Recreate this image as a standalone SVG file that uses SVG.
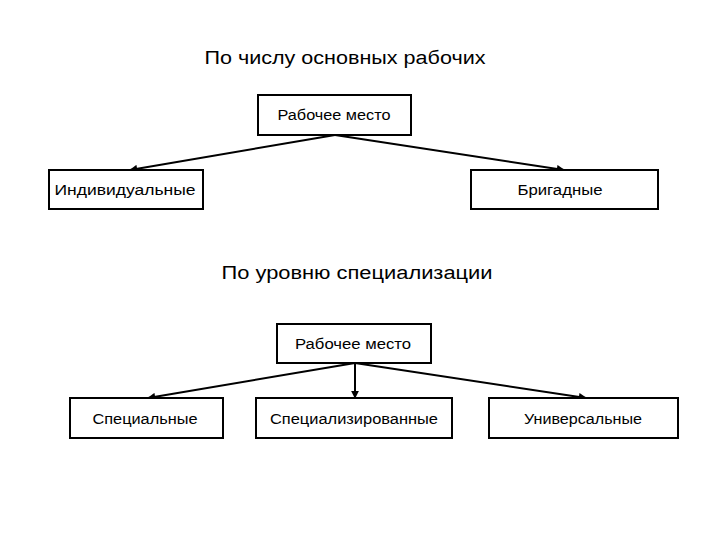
<svg xmlns="http://www.w3.org/2000/svg" width="720" height="540" viewBox="0 0 720 540">
<style>
.box{fill:#fff;stroke:#000;stroke-width:2}
.t{font-family:"Liberation Sans",Arial,sans-serif;font-size:14px;fill:#000;text-anchor:middle}
.h{font-family:"Liberation Sans",Arial,sans-serif;font-size:18px;fill:#000;text-anchor:middle}
.c{stroke:#000;stroke-width:2;fill:none;marker-end:url(#ah)}
</style>
<defs>
<marker id="ah" viewBox="0 0 10 10" refX="9" refY="5" markerWidth="4" markerHeight="4" orient="auto" markerUnits="strokeWidth">
<path d="M0,0 L10,5 L0,10 z" fill="#000"/>
</marker>
</defs>
<rect width="720" height="540" fill="#fff"/>
<text class="h" x="345" y="64" textLength="281" lengthAdjust="spacingAndGlyphs">По числу основных рабочих</text>
<text class="h" x="357" y="279" textLength="271" lengthAdjust="spacingAndGlyphs">По уровню специализации</text>
<g id="connectors">
<line class="c" x1="335" y1="135" x2="130" y2="170"/>
<line class="c" x1="335" y1="135" x2="564" y2="170"/>
<line class="c" x1="355" y1="363" x2="148" y2="398"/>
<line class="c" x1="355" y1="363" x2="355" y2="398"/>
<line class="c" x1="355" y1="363" x2="586" y2="398"/>
</g>
<g id="top1">
<rect class="box" x="258" y="95" width="153" height="40"/>
<text class="t" x="334" y="120" textLength="113" lengthAdjust="spacingAndGlyphs">Рабочее место</text>
</g>
<g id="individual">
<rect class="box" x="49" y="170" width="154" height="39"/>
<text class="t" x="125" y="195" textLength="141" lengthAdjust="spacingAndGlyphs">Индивидуальные</text>
</g>
<g id="brigade">
<rect class="box" x="471" y="170" width="187" height="39"/>
<text class="t" x="560" y="195" textLength="85" lengthAdjust="spacingAndGlyphs">Бригадные</text>
</g>
<g id="top2">
<rect class="box" x="277" y="324" width="154" height="39"/>
<text class="t" x="353" y="349" textLength="116" lengthAdjust="spacingAndGlyphs">Рабочее место</text>
</g>
<g id="special">
<rect class="box" x="70" y="398" width="153" height="40"/>
<text class="t" x="145" y="424" textLength="105" lengthAdjust="spacingAndGlyphs">Специальные</text>
</g>
<g id="specialized">
<rect class="box" x="256" y="398" width="196" height="40"/>
<text class="t" x="354" y="424" textLength="168" lengthAdjust="spacingAndGlyphs">Специализированные</text>
</g>
<g id="universal">
<rect class="box" x="489" y="398" width="189" height="40"/>
<text class="t" x="583" y="424" textLength="118" lengthAdjust="spacingAndGlyphs">Универсальные</text>
</g>
</svg>
